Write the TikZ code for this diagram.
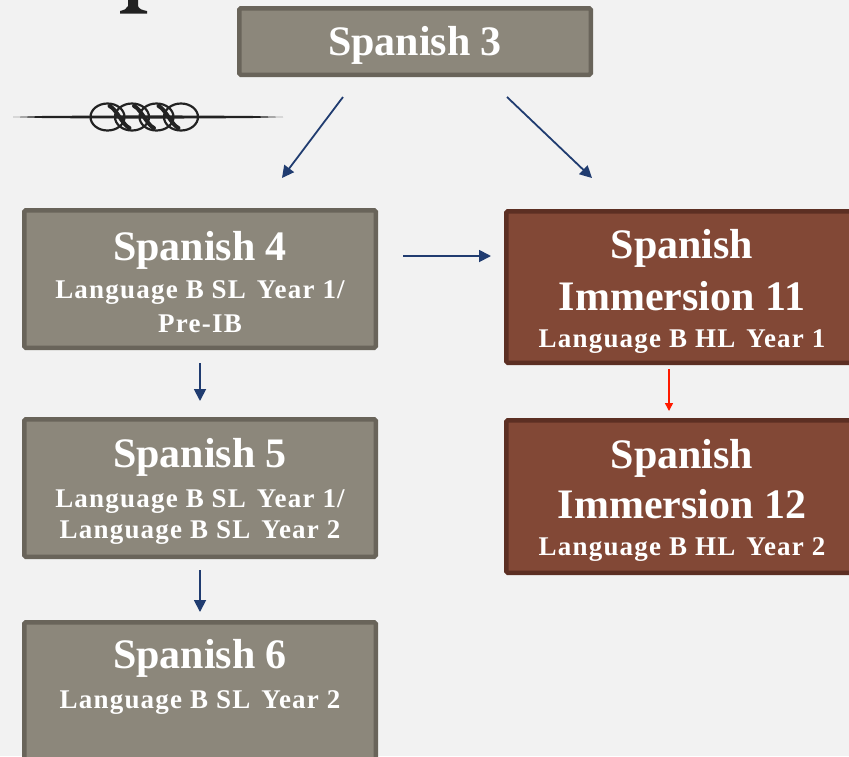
\documentclass[tikz,border=0pt]{standalone}
\usepackage{fontspec}
\usetikzlibrary{arrows.meta,calc}
\newfontfamily\mytitlefam{Liberation Serif}
\newfontfamily\mysubfam{Liberation Serif}[LetterSpace=4.5]
\newcommand\mytitlefont{\mytitlefam\bfseries\fontsize{42}{48}\selectfont}
\newcommand\mysubfont{\mysubfam\bfseries\fontsize{27}{32}\selectfont}
\newcommand\gap{\ \hspace{3pt}}
\definecolor{pagebg}{HTML}{F2F2F2}
\definecolor{grayfill}{HTML}{8C877B}
\definecolor{grayline}{HTML}{69645A}
\definecolor{brownfill}{HTML}{824836}
\definecolor{brownline}{HTML}{5C2F23}
\definecolor{navy}{HTML}{203C70}
\definecolor{arrred}{HTML}{FF1A00}
\definecolor{ink}{HTML}{222222}
\tikzset{
  graybox/.style={draw=grayline, fill=grayfill, line width=4.5pt, rounded corners=1.5pt,
    minimum width=351.5pt, inner sep=0pt},
  brownbox/.style={draw=brownline, fill=brownfill, line width=4.5pt, rounded corners=1.5pt,
    minimum width=351.5pt, inner sep=0pt},
  ttl/.style={text=white, font=\mytitlefont, anchor=base, inner sep=0pt},
  sub/.style={text=white, font=\mysubfont, anchor=base, inner sep=0pt},
  navyarrow/.style={draw=navy, line width=1.8pt, -{Triangle[length=12pt,width=12pt]}},
  redarrow/.style={draw=arrred, line width=1.4pt, -{Triangle[length=8pt,width=8pt]}},
}
\begin{document}
\begin{tikzpicture}[x=1pt,y=-1pt]
\useasboundingbox (0,0) rectangle (849,756);
\fill[pagebg] (0,0) rectangle (849,756);
\clip (0,0) rectangle (849,756);

% foot of a large letter cut off at the top
\fill[ink] (128,0) -- (128,6) .. controls (127,9) and (124,10) .. (120,11) -- (120,13.5)
  -- (147,13.5) -- (147,11) .. controls (142,10) and (139,9) .. (138,6) -- (138,0) -- cycle;

% ornament
\fill[ink] (13,117) -- (45,115.9) -- (150,115.3) -- (250,115.9) -- (283,117)
  -- (250,118.1) -- (150,118.7) -- (45,118.1) -- cycle;
\foreach \cx in {107.5,132,156.5,181} {
  \draw[ink, line width=2.2pt] (\cx,117) ellipse [x radius=17pt, y radius=13.5pt];
}
\foreach \cx in {119.5,144,168.5} {
  \draw[ink, line width=4pt, line cap=round] (\cx-10,106) .. controls (\cx-3,109) and (\cx+3,125) .. (\cx+10,128);
}

% boxes
\node[graybox, minimum height=66.5pt] (s3) at (415,41.5) {};
\node[graybox, minimum height=137.5pt] (s4) at (200,279) {};
\node[graybox, minimum height=137.5pt] (s5) at (200,488) {};
\node[graybox, minimum height=137.5pt] (s6) at (200,691) {};
\node[brownbox, minimum height=151.5pt] (i11) at (682,287) {};
\node[brownbox, minimum height=152.5pt] (i12) at (682,496.5) {};

% texts
\node[ttl] (t3) at (415,55) {Spanish 3};

\node[ttl] (t4) at (200,260) {Spanish 4};
\node[sub] (t4a) at (200,298) {Language B SL\gap Year 1/};
\node[sub] (t4b) at (200,332) {Pre-IB};

\node[ttl] (t5) at (200,467) {Spanish 5};
\node[sub] (t5a) at (200,507) {Language B SL\gap Year 1/};
\node[sub] (t5b) at (200,538) {Language B SL\gap Year 2};

\node[ttl] (t6) at (200,668) {Spanish 6};
\node[sub] (t6a) at (200,708) {Language B SL\gap Year 2};

\node[ttl] (t11a) at (682,258) {Spanish};
\node[ttl] (t11b) at (682,310) {Immersion 11};
\node[sub] (t11c) at (682,347) {Language B HL\gap Year 1};

\node[ttl] (t12a) at (682,468) {Spanish};
\node[ttl] (t12b) at (682,518) {Immersion 12};
\node[sub] (t12c) at (682,555) {Language B HL\gap Year 2};

% connector end points
\coordinate (a1s) at ($(s3.south)+(-72,20)$);
\coordinate (a1e) at ($(s4.north)+(82,-30)$);
\coordinate (a2s) at ($(s3.south)+(92,20)$);
\coordinate (a2e) at ($(i11.north)+(-90,-31)$);
\coordinate (a3s) at ($(s4.east)+(25,-23)$);
\coordinate (a3e) at ($(i11.west)+(-13,-31)$);
\coordinate (a4s) at ($(s4.south)+(0,13)$);
\coordinate (a4e) at ($(s5.north)+(0,-16)$);
\coordinate (a5s) at ($(s5.south)+(0,11)$);
\coordinate (a5e) at ($(s6.north)+(0,-8)$);
\coordinate (a6s) at ($(i11.south)+(-13,4)$);
\coordinate (a6e) at ($(i12.north)+(-13,-7)$);

\draw[navyarrow] (a1s) -- (a1e);
\draw[navyarrow] (a2s) -- (a2e);
\draw[navyarrow] (a3s) -- (a3e);
\draw[navyarrow] (a4s) -- (a4e);
\draw[navyarrow] (a5s) -- (a5e);
\draw[redarrow] (a6s) -- (a6e);
\end{tikzpicture}
\end{document}
